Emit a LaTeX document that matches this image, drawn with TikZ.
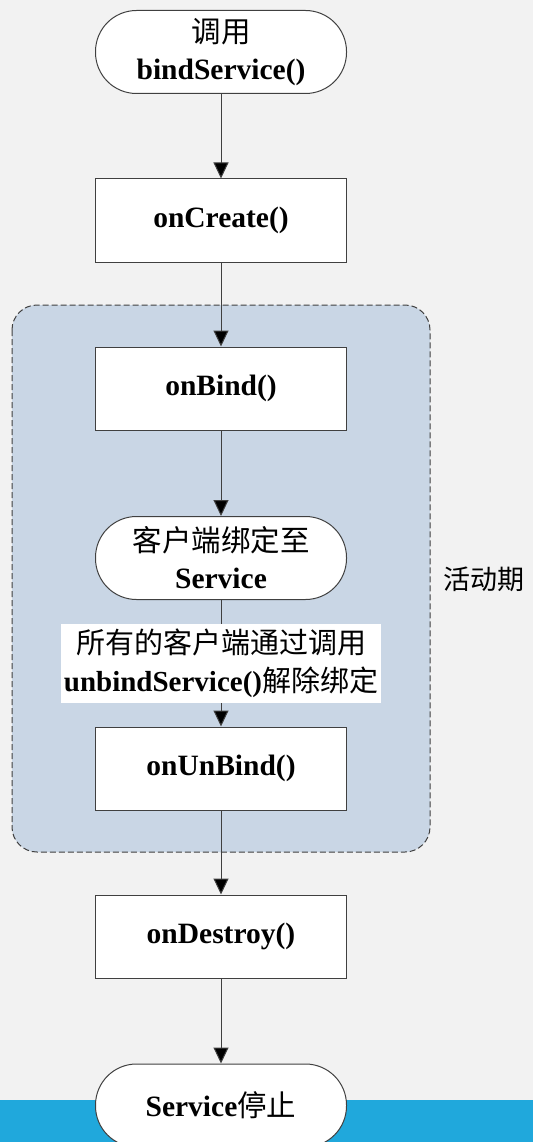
\documentclass[tikz,border=0pt]{standalone}
\usepackage{fontspec}
\setmainfont{Liberation Serif}
\newfontfamily\cjk{Noto Sans CJK SC}
\usetikzlibrary{arrows.meta}
\definecolor{bgc}{HTML}{F2F2F2}
\definecolor{barc}{HTML}{20A8DC}
\definecolor{actc}{HTML}{C9D6E5}
\definecolor{linec}{HTML}{404040}
\tikzset{
  proc/.style={draw=linec, line width=1pt, fill=white, minimum width=251pt, minimum height=83pt,
    inner sep=0pt, align=center, font=\fontsize{29.5}{37}\selectfont\bfseries},
  term/.style={proc, rounded corners=41pt},
  flow/.style={draw=linec, line width=1pt, -{Triangle[width=15pt,length=16pt,fill=black]}},
  note/.style={fill=white, minimum width=320pt, minimum height=79pt, inner sep=0pt,
    align=center, font=\fontsize{29}{38}\selectfont},
  side/.style={font=\fontsize{27}{30}\selectfont\cjk, inner sep=0pt}
}
\begin{document}
\begin{tikzpicture}[x=1pt,y=-1pt]
\useasboundingbox (0,0) rectangle (533,1142);
\clip (0,0) rectangle (533,1142);
\fill[bgc] (0,0) rectangle (533,1142);
\fill[barc] (0,1100) rectangle (533,1142);
\draw[draw=linec, line width=1pt, dash pattern=on 6pt off 3pt, rounded corners=25pt, fill=actc] (12,305) rectangle (430,852);
\node[side] (active) at (484,579) {活动期};

\node[term] (start) at (221,52) {{\cjk\mdseries 调用}\\bindService()};
\node[proc] (create) at (221,220.5) {onCreate()};
\node[proc] (bind) at (221,388.5) {onBind()};
\node[term] (bound) at (221,558) {{\cjk\mdseries 客户端绑定至}\\Service};
\node[proc] (unbind) at (221,768.5) {onUnBind()};
\node[proc] (destroy) at (221,936.5) {onDestroy()};
\node[term] (stop) at (221,1105.5) {Service{\cjk\mdseries 停止}};

\draw[flow] (start) -- (create);
\draw[flow] (create) -- (bind);
\draw[flow] (bind) -- (bound);
\draw[flow] (bound) -- (unbind);
\draw[flow] (unbind) -- (destroy);
\draw[flow] (destroy) -- (stop);

\node[note] (label) at (221,663) {{\cjk 所有的客户端通过调用}\\{\bfseries unbindService()}{\cjk 解除绑定}};
\end{tikzpicture}
\end{document}
